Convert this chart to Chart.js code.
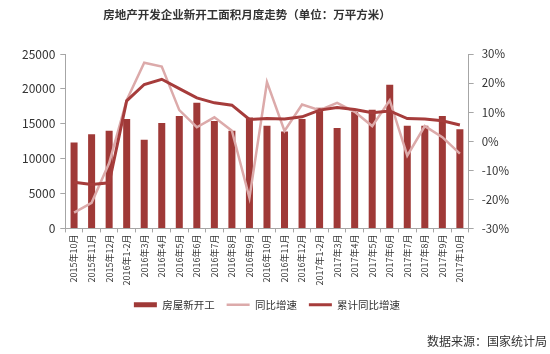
<!DOCTYPE html>
<html>
<head>
<meta charset="utf-8">
<script src="https://cdn.jsdelivr.net/npm/chart.js@4.4.1/dist/chart.umd.min.js"></script>
<style>
  body { margin: 0; background: #fff; }
  #wrap { width: 550px; height: 354px; }
</style>
</head>
<body>
<div id="wrap"><canvas id="starts"></canvas></div>
<script>
// Categories (months)
const months = [
  '2015年10月', '2015年11月', '2015年12月',
  '2016年1-2月', '2016年3月', '2016年4月', '2016年5月', '2016年6月', '2016年7月',
  '2016年8月', '2016年9月', '2016年10月', '2016年11月', '2016年12月',
  '2017年1-2月', '2017年3月', '2017年4月', '2017年5月', '2017年6月', '2017年7月',
  '2017年8月', '2017年9月', '2017年10月'
];

// 房屋新开工 (万平方米)
const newStarts = [
  12300, 13500, 14000, 15700, 12700, 15100, 16100, 18000, 15400, 14000, 15900, 14700,
  13900, 15700, 17300, 14400, 16700, 17000, 20600, 14700, 14700, 16100, 14200
];

// 同比增速 (%)
const yoyGrowth = [
  -24.6, -21.2, -7.5, 14.1, 27.0, 25.7, 10.7, 4.8, 8.2, 3.6, -19.5, 20.3,
  3.5, 12.6, 10.7, 13.2, 10.1, 5.2, 14.1, -5.0, 5.2, 1.4, -4.3
];

// 累计同比增速 (%)
const cumGrowth = [
  -14.1, -14.9, -14.3, 13.9, 19.5, 21.3, 18.1, 14.9, 13.2, 12.4, 7.5, 7.8,
  7.6, 8.4, 10.7, 11.6, 10.9, 9.8, 10.4, 7.8, 7.6, 7.0, 5.6
];

const chartTitle = '房地产开发企业新开工面积月度走势（单位：万平方米）';
const sourceNote = '数据来源：国家统计局';

const cjkFont = '"Noto Sans CJK SC", "Noto Sans", sans-serif';

// Draw title and source note in fixed spots
const textPlugin = {
  id: 'textPlugin',
  afterDraw(chart) {
    const ctx = chart.ctx;
    ctx.save();
    ctx.fillStyle = '#333';
    ctx.textBaseline = 'middle';
    ctx.font = 'bold 11.5px ' + cjkFont;
    ctx.textAlign = 'center';
    ctx.fillText(chartTitle, 247, 15);
    ctx.font = '12px ' + cjkFont;
    ctx.textAlign = 'right';
    ctx.fillText(sourceNote, 547, 341);
    ctx.restore();
  }
};

const axisColor = '#a6a6a6';

const configStarts = {
  type: 'bar',
  data: {
    labels: months,
    datasets: [
      {
        label: '房屋新开工',
        data: newStarts,
        backgroundColor: '#9f3937',
        yAxisID: 'y',
        barPercentage: 0.8,
        categoryPercentage: 0.5,
        pointStyle: 'rect',
        order: 2
      },
      {
        type: 'line',
        label: '同比增速',
        data: yoyGrowth,
        borderColor: '#dcaaaa',
        backgroundColor: '#dcaaaa',
        borderWidth: 2.5,
        pointRadius: 0,
        tension: 0,
        yAxisID: 'y1',
        pointStyle: 'line',
        order: 1
      },
      {
        type: 'line',
        label: '累计同比增速',
        data: cumGrowth,
        borderColor: '#a63c3b',
        backgroundColor: '#a63c3b',
        borderWidth: 3,
        pointRadius: 0,
        tension: 0,
        yAxisID: 'y1',
        pointStyle: 'line',
        order: 0
      }
    ]
  },
  options: {
    responsive: true,
    maintainAspectRatio: false,
    animation: false,
    layout: {
      padding: { top: 54, left: 17, right: 33, bottom: 34 }
    },
    plugins: {
      title: { display: false },
      tooltip: { enabled: false },
      legend: {
        position: 'bottom',
        labels: {
          usePointStyle: true,
          pointStyleWidth: 23,
          boxHeight: 5,
          padding: 12,
          color: '#333',
          font: { family: cjkFont, size: 10.5 },
          sort: (a, b) => a.datasetIndex - b.datasetIndex
        }
      }
    },
    scales: {
      x: {
        grid: {
          display: true,
          drawOnChartArea: false,
          tickLength: 4,
          color: axisColor
        },
        border: { color: axisColor },
        ticks: {
          maxRotation: 90,
          minRotation: 90,
          autoSkip: false,
          padding: 2,
          color: '#333',
          font: { family: cjkFont, size: 9 }
        }
      },
      y: {
        position: 'left',
        min: 0,
        max: 25000,
        grid: {
          display: true,
          drawOnChartArea: false,
          tickLength: 5,
          color: axisColor
        },
        border: { color: axisColor },
        ticks: {
          stepSize: 5000,
          padding: 5,
          color: '#333',
          font: { family: cjkFont, size: 12 },
          callback: v => String(v)
        }
      },
      y1: {
        position: 'right',
        min: -30,
        max: 30,
        grid: {
          display: true,
          drawOnChartArea: false,
          tickLength: 5,
          color: axisColor
        },
        border: { color: axisColor },
        ticks: {
          stepSize: 10,
          padding: 8,
          color: '#333',
          font: { family: cjkFont, size: 11.5 },
          callback: v => v + '%'
        }
      }
    }
  },
  plugins: [textPlugin]
};

const starts = new Chart(document.getElementById('starts'), configStarts);
</script>
</body>
</html>
